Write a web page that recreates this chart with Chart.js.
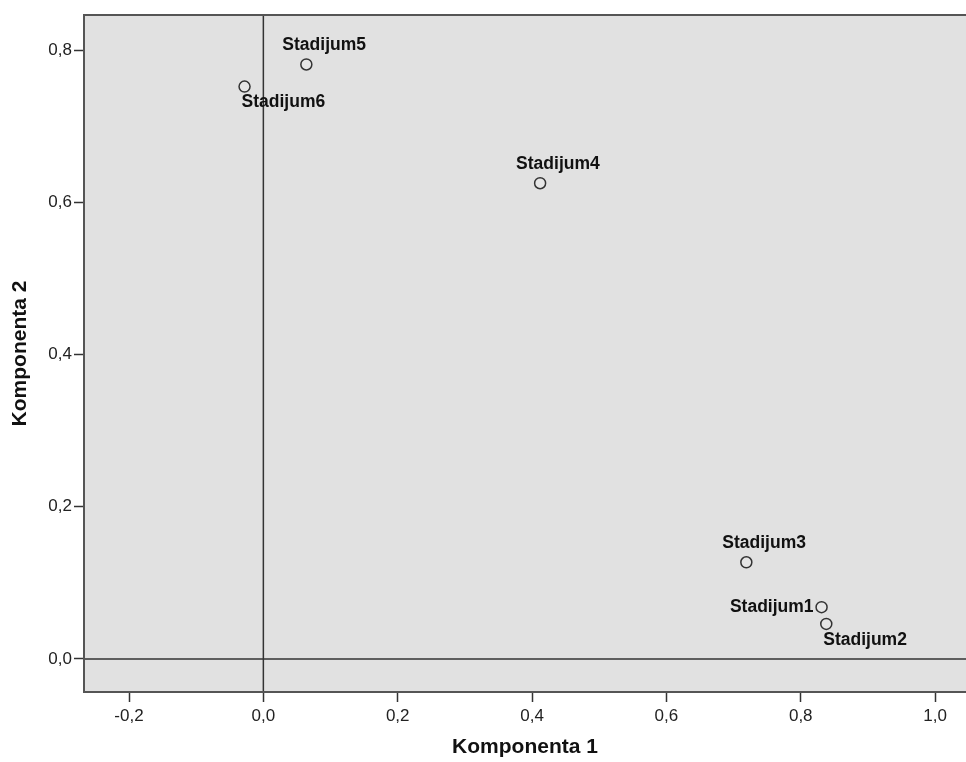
<!DOCTYPE html>
<html>
<head>
<meta charset="utf-8">
<script src="https://cdn.jsdelivr.net/npm/chart.js@4"></script>
<style>
    body { margin: 0; background: #fff; overflow: hidden; }
    #wrap { width: 966px; height: 762px; }
    canvas { display: block; }
</style>
</head>
<body>
<div id="wrap"><canvas id="plot"></canvas></div>
<script>
// component loadings
const labels = ["Stadijum1", "Stadijum2", "Stadijum3", "Stadijum4", "Stadijum5", "Stadijum6"];
const komp1 = [0.831, 0.838, 0.719, 0.412, 0.064, -0.028];
const komp2 = [0.068, 0.046, 0.127, 0.625, 0.781, 0.752];
const xTicks = [-0.2, 0.0, 0.2, 0.4, 0.6, 0.8, 1.0];
const yTicks = [0.0, 0.2, 0.4, 0.6, 0.8];

// where each label sits relative to its point
const placement = ["left", "below", "above", "above", "above", "below"];

const fmt = v => v.toFixed(1).replace(".", ",");

// plot background, frame and the zero reference lines
const framePlugin = {
    id: "frame",
    beforeDatasetsDraw(chart) {
        const { ctx, chartArea: a, scales } = chart;
        ctx.save();
        ctx.fillStyle = "#e1e1e1";
        ctx.fillRect(a.left, a.top, a.right - a.left, a.bottom - a.top);
        ctx.strokeStyle = "#333";
        ctx.lineWidth = 1.5;
        let x0 = scales.x.getPixelForValue(0);
        let y0 = scales.y.getPixelForValue(0);
        ctx.beginPath();
        ctx.moveTo(x0, a.top);
        ctx.lineTo(x0, a.bottom);
        ctx.moveTo(a.left, y0);
        ctx.lineTo(a.right, y0);
        ctx.stroke();
        ctx.strokeStyle = "#555";
        ctx.lineWidth = 2;
        ctx.strokeRect(a.left, a.top, a.right - a.left + 4, a.bottom - a.top);
        ctx.restore();
    }
};

const labelPlugin = {
    id: "pointLabels",
    afterDatasetsDraw(chart) {
        const ctx = chart.ctx;
        const meta = chart.getDatasetMeta(0);
        ctx.save();
        ctx.font = "bold 17.5px 'Liberation Sans', Arial, sans-serif";
        ctx.fillStyle = "#111";
        ctx.textBaseline = "middle";
        meta.data.forEach((pt, i) => {
            let p = placement[i];
            if (p === "left") {
                ctx.textAlign = "right";
                ctx.fillText(labels[i], pt.x - 8, pt.y);
            } else if (p === "above") {
                ctx.textAlign = "left";
                ctx.fillText(labels[i], pt.x - 24, pt.y - 19);
            } else {
                ctx.textAlign = "left";
                ctx.fillText(labels[i], pt.x - 3, pt.y + 16);
            }
        });
        ctx.restore();
    }
};

const ctx = document.getElementById("plot").getContext("2d");

new Chart(ctx, {
    type: "scatter",
    data: {
        datasets: [{
            data: komp1.map((v, i) => ({ x: v, y: komp2[i] })),
            pointRadius: 5.5,
            pointHoverRadius: 5.5,
            pointBorderWidth: 1.5,
            pointBorderColor: "#333",
            pointBackgroundColor: "#e6e6e6"
        }]
    },
    options: {
        responsive: true,
        maintainAspectRatio: false,
        animation: false,
        layout: { autoPadding: false, padding: { top: 15, right: 0, left: 0, bottom: 0 } },
        plugins: {
            legend: { display: false },
            tooltip: { enabled: false }
        },
        scales: {
            x: {
                type: "linear",
                min: -0.267,
                max: 1.046,
                afterBuildTicks: s => { s.ticks = xTicks.map(v => ({ value: v })); },
                afterFit: s => { s.height = 70; s.paddingLeft = 0; s.paddingRight = 0; },
                grid: { drawOnChartArea: false, drawTicks: true, tickLength: 10, tickColor: "#333", tickWidth: 1.5 },
                border: { display: false },
                ticks: {
                    callback: v => fmt(v),
                    color: "#222",
                    padding: 4,
                    maxRotation: 0,
                    font: { family: "'Liberation Sans', Arial, sans-serif", size: 17 }
                },
                title: {
                    display: true,
                    text: "Komponenta 1",
                    color: "#111",
                    padding: { top: 0, bottom: 2 },
                    font: { family: "'Liberation Sans', Arial, sans-serif", size: 21, weight: "bold" }
                }
            },
            y: {
                type: "linear",
                min: -0.0434,
                max: 0.846,
                afterBuildTicks: s => { s.ticks = yTicks.map(v => ({ value: v })); },
                afterFit: s => { s.width = 84; s.paddingTop = 0; s.paddingBottom = 0; },
                grid: { drawOnChartArea: false, drawTicks: true, tickLength: 10, tickColor: "#333", tickWidth: 1.5 },
                border: { display: false },
                ticks: {
                    callback: v => fmt(v),
                    color: "#222",
                    padding: 2,
                    font: { family: "'Liberation Sans', Arial, sans-serif", size: 17 }
                },
                title: {
                    display: true,
                    text: "Komponenta 2",
                    color: "#111",
                    padding: { top: 8, bottom: 0 },
                    font: { family: "'Liberation Sans', Arial, sans-serif", size: 21, weight: "bold" }
                }
            }
        }
    },
    plugins: [framePlugin, labelPlugin]
});
</script>
</body>
</html>
